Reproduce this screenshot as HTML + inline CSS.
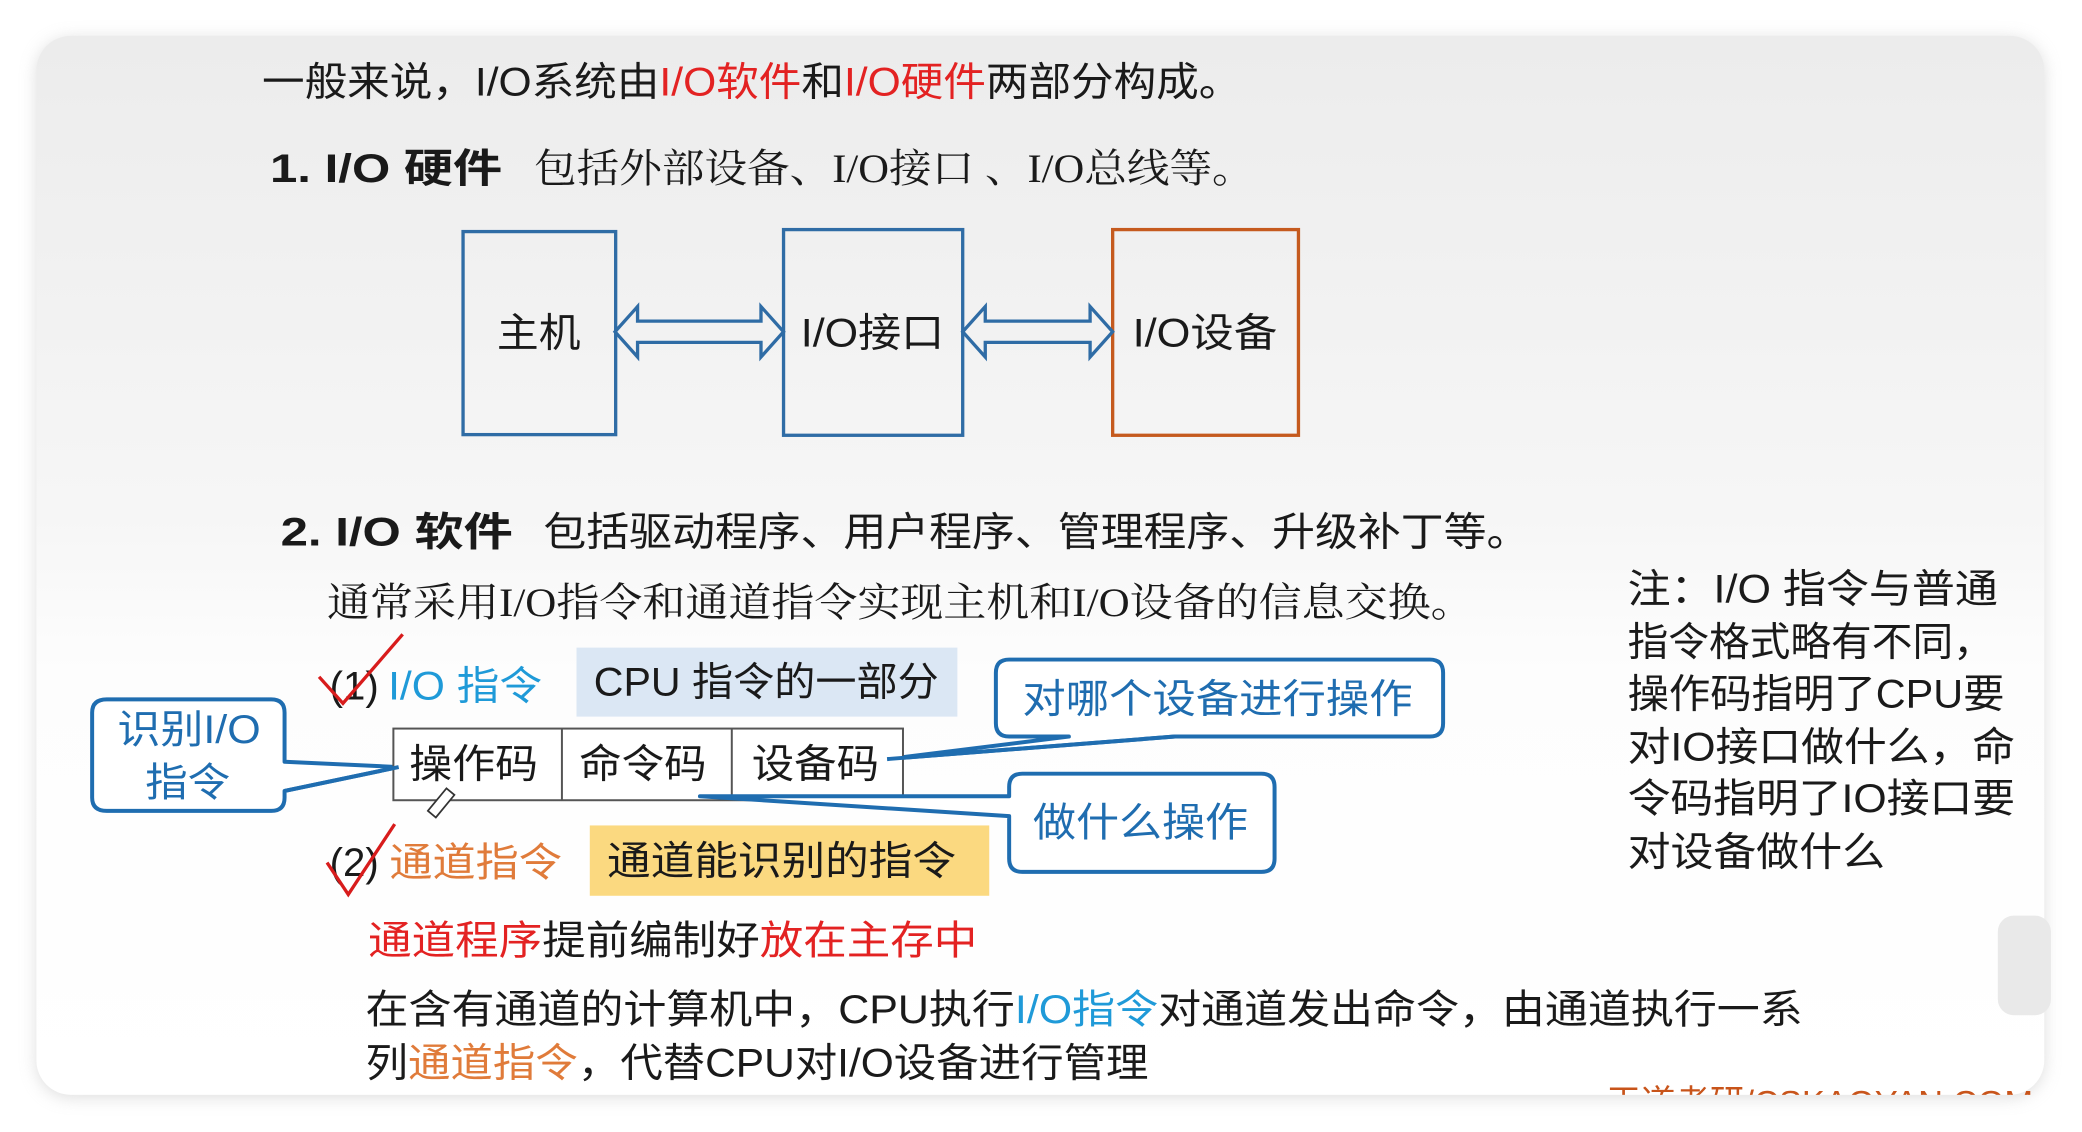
<!DOCTYPE html>
<html><head><meta charset="utf-8"><style>
html,body{margin:0;padding:0;background:#fff;width:2082px;height:1132px;overflow:hidden}
svg{display:block}
text{font-family:"Liberation Sans","Noto Sans CJK SC",sans-serif;font-size:30px;fill:#1a1a1a}
.b{font-weight:bold}
</style></head><body>
<svg width="2082" height="1132" viewBox="0 0 1568 853" xmlns="http://www.w3.org/2000/svg">
<defs>
<linearGradient id="bg" x1="0" y1="0" x2="0" y2="1">
<stop offset="0" stop-color="#ececec"/><stop offset="0.45" stop-color="#f6f6f6"/><stop offset="0.6" stop-color="#fdfdfd"/><stop offset="1" stop-color="#ffffff"/>
</linearGradient>
<filter id="sh" x="-5%" y="-5%" width="110%" height="110%"><feGaussianBlur stdDeviation="6"/></filter>
</defs>
<rect x="27" y="29" width="1513" height="798" rx="26" fill="#c8c8c8" filter="url(#sh)" opacity="0.6"/>
<rect x="27" y="27" width="1513" height="798" rx="26" fill="url(#bg)"/>
<rect x="1505" y="690" width="40" height="75" rx="12" fill="#e9e9e9"/>

<text x="197" y="72" textLength="738" lengthAdjust="spacingAndGlyphs">一般来说，I/O系统由<tspan fill="#e32222">I/O软件</tspan>和<tspan fill="#e32222">I/O硬件</tspan>两部分构成。</text>
<text class="b" x="203" y="137" textLength="175" lengthAdjust="spacingAndGlyphs">1. I/O 硬件</text>
<text x="402" y="137" textLength="543" lengthAdjust="spacingAndGlyphs" style="font-family:'Liberation Serif','Noto Serif CJK SC',serif">包括外部设备、I/O接口 、I/O总线等。</text>

<rect x="348.5" y="174.5" width="115" height="153" fill="none" stroke="#2f6ca5" stroke-width="2.5"/>
<rect x="590" y="173" width="135" height="155" fill="none" stroke="#2f6ca5" stroke-width="2.5"/>
<rect x="838" y="173" width="140" height="155" fill="none" stroke="#c55a1e" stroke-width="2.5"/>
<text x="374" y="261" textLength="63" lengthAdjust="spacingAndGlyphs">主机</text>
<text x="603" y="261" textLength="108" lengthAdjust="spacingAndGlyphs">I/O接口</text>
<text x="853" y="261" textLength="109" lengthAdjust="spacingAndGlyphs">I/O设备</text>
<path d="M463,250 L480,231 L480,242 L573,242 L573,231 L590,250 L573,269 L573,258 L480,258 L480,269 Z" fill="none" stroke="#2f6ca5" stroke-width="2.5" stroke-linejoin="miter"/>
<path d="M725,250 L742,231 L742,242 L821,242 L821,231 L838,250 L821,269 L821,258 L742,258 L742,269 Z" fill="none" stroke="#2f6ca5" stroke-width="2.5"/>

<text class="b" x="211" y="411" textLength="175" lengthAdjust="spacingAndGlyphs">2. I/O 软件</text>
<text x="409" y="411" textLength="743" lengthAdjust="spacingAndGlyphs">包括驱动程序、用户程序、管理程序、升级补丁等。</text>
<text x="246" y="464" textLength="864" lengthAdjust="spacingAndGlyphs" style="font-family:'Liberation Serif','Noto Serif CJK SC',serif">通常采用I/O指令和通道指令实现主机和I/O设备的信息交换。</text>

<text x="1226" y="454" textLength="279" lengthAdjust="spacingAndGlyphs">注：I/O 指令与普通</text>
<text x="1226" y="494" textLength="276" lengthAdjust="spacingAndGlyphs">指令格式略有不同，</text>
<text x="1226" y="533" textLength="284" lengthAdjust="spacingAndGlyphs">操作码指明了CPU要</text>
<text x="1226" y="573" textLength="292" lengthAdjust="spacingAndGlyphs">对IO接口做什么，命</text>
<text x="1226" y="612" textLength="292" lengthAdjust="spacingAndGlyphs">令码指明了IO接口要</text>
<text x="1226" y="652" textLength="194" lengthAdjust="spacingAndGlyphs">对设备做什么</text>

<!-- (1) -->
<text x="248" y="527" textLength="37" lengthAdjust="spacingAndGlyphs">(1)</text>
<text x="292" y="527" textLength="116" lengthAdjust="spacingAndGlyphs" fill="#1f9ad8" style="fill:#1f9ad8">I/O 指令</text>
<rect x="434" y="488" width="287" height="52" fill="#dbe7f4"/>
<text x="447" y="524" textLength="260" lengthAdjust="spacingAndGlyphs">CPU 指令的一部分</text>
<path d="M240,510 L258,530 L303,478" fill="none" stroke="#d81c1c" stroke-width="2.5"/>

<!-- callout top right -->
<path d="M760,497 H1077 Q1087,497 1087,507 V545 Q1087,555 1077,555 H885 L668,572 L805,555 H760 Q750,555 750,545 V507 Q750,497 760,497 Z" fill="#fff" stroke="#1f6db0" stroke-width="3" stroke-linejoin="round"/>
<text x="770" y="537" textLength="294" lengthAdjust="spacingAndGlyphs" style="fill:#1f6db0">对哪个设备进行操作</text>

<!-- callout left -->
<path d="M80,527 H204 Q214,527 214,537 V574 L300,578 L214,596 V601 Q214,611 204,611 H80 Q69,611 69,601 V537 Q69,527 80,527 Z" fill="#fff" stroke="#1f6db0" stroke-width="3" stroke-linejoin="round"/>
<text x="88" y="560" textLength="108" lengthAdjust="spacingAndGlyphs" style="fill:#1f6db0">识别I/O</text>
<text x="109" y="600" textLength="64" lengthAdjust="spacingAndGlyphs" style="fill:#1f6db0">指令</text>

<!-- table -->
<rect x="296" y="549" width="384" height="54" fill="#fff" stroke="#555" stroke-width="1.5"/>
<line x1="423" y1="549" x2="423" y2="603" stroke="#555" stroke-width="1.5"/>
<line x1="551" y1="549" x2="551" y2="603" stroke="#555" stroke-width="1.5"/>
<text x="308" y="586" textLength="97" lengthAdjust="spacingAndGlyphs">操作码</text>
<text x="436" y="586" textLength="96" lengthAdjust="spacingAndGlyphs">命令码</text>
<text x="566" y="586" textLength="96" lengthAdjust="spacingAndGlyphs">设备码</text>
<path d="M668,572 L885,555 M300,578 L214,596" stroke="#1f6db0" stroke-width="3" fill="none"/>
<path d="M322,611 L336,594 L342,599 L328,616 Z" fill="#fff" stroke="#333" stroke-width="1.3"/>

<!-- callout 做什么操作 -->
<path d="M770,583 H950 Q960,583 960,593 V647 Q960,657 950,657 H770 Q760,657 760,647 V615 L527,600 L760,600 V593 Q760,583 770,583 Z" fill="#fff" stroke="#1f6db0" stroke-width="3" stroke-linejoin="round"/>
<text x="778" y="630" textLength="162" lengthAdjust="spacingAndGlyphs" style="fill:#1f6db0">做什么操作</text>

<!-- (2) -->
<text x="248" y="660" textLength="37" lengthAdjust="spacingAndGlyphs">(2)</text>
<text x="293" y="660" textLength="130" lengthAdjust="spacingAndGlyphs" style="fill:#e07b3a">通道指令</text>
<rect x="444" y="622" width="301" height="53" fill="#fbd980"/>
<text x="457" y="659" textLength="263" lengthAdjust="spacingAndGlyphs">通道能识别的指令</text>
<path d="M246,650 L262,674 L297,621" fill="none" stroke="#d81c1c" stroke-width="2.5"/>

<text x="277" y="719" textLength="459" lengthAdjust="spacingAndGlyphs"><tspan style="fill:#e32222">通道程序</tspan>提前编制好<tspan style="fill:#e32222">放在主存中</tspan></text>
<text x="275" y="771" textLength="1083" lengthAdjust="spacingAndGlyphs">在含有通道的计算机中，CPU执行<tspan style="fill:#1f9ad8">I/O指令</tspan>对通道发出命令，由通道执行一系</text>
<text x="275" y="811" textLength="590" lengthAdjust="spacingAndGlyphs">列<tspan style="fill:#e07b3a">通道指令</tspan>，代替CPU对I/O设备进行管理</text>
<clipPath id="cp"><rect x="1200" y="815" width="330" height="10"/></clipPath>
<text x="1210" y="840" clip-path="url(#cp)" style="fill:#c8541a;font-size:26px">王道考研/CSKAOYAN.COM</text>
</svg>
</body></html>
